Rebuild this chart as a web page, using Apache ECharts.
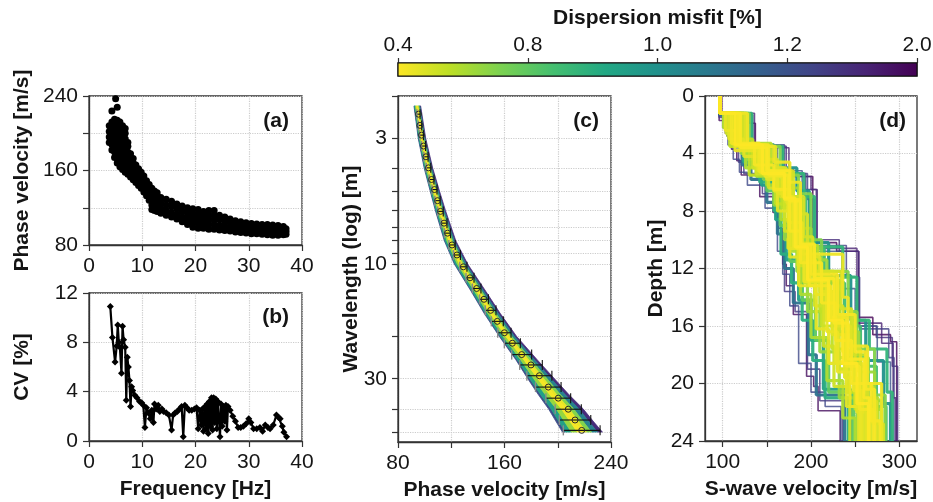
<!DOCTYPE html>
<html><head><meta charset="utf-8">
<script src="https://cdn.jsdelivr.net/npm/echarts@6/dist/echarts.min.js"></script>
<style>html,body{margin:0;padding:0;background:#fff}#c{width:933px;height:502px}</style>
</head><body><div id="c"></div>
<script>
// ---------- Panel (a): phase velocity vs frequency ----------
const freqA = [3.8,4.3,4.8,5.0,5.3,5.8,6.3,6.8,7.3,7.8,8.3,8.8,9.3,9.8,10.3,10.8,11.3,11.8,12.3,12.8,13.5,14.5,15.5,16.5,17.5,18.5,19.5,20.5,21.5,22.5,23.5,24.5,25.5,26.5,27.5,28.5,29.5,30.5,31.5,32.5,33.5,34.5,35.5,36.5,37.0];
const velA = [
 [190,196,202,208],[182,188,194,200,206,212,224],[174,180,186,192,198,204,210,215],[237],
 [168,174,180,186,192,198,204,210,214,228],[164,170,176,182,188,194,200,206,212],
 [161,167,173,179,185,191,197,203,208],[158,164,170,176,182,188,194,200,205],
 [156,162,168,174,180,186,190],[153,159,165,171,178],[150,156,162,168,173],[147,153,159,166],
 [144,150,156,162],[141,147,153,158],[137,143,149,154],[133,139,145,149],[128,134,140,145],
 [118,123,129,135,141],[117,122,128,134,138],[116,121,127,133,136],[114,119,125,131],
 [112,117,123,129],[110,115,121,127],[108,113,119,124],[105,110,116,122],[102,107,112,116,120],
 [99,104,109,114,119],[98,103,108,113,118],[98,103,108,112,116],[97,102,107,112,117],
 [97,102,107,112,117],[96,101,107,112],[95.5,100,105,110],[95,99,104,108],[94,98,102,106],
 [93.5,97,101,105],[93,97,100,104],[92,96,99,103],[92,95.5,99,102.5],[91.5,95,98.5,102],
 [91,95,98.5,102],[90.5,94.5,98,101.5],[90.5,94,97.5,101],[91,94,97,100],[91.5,94.5,97.5]
];
// ---------- Panel (b): CV vs frequency ----------
const freqB = [4.0,4.4,4.9,5.2,5.4,5.6,5.8,6.1,6.3,6.5,6.8,7.0,7.2,7.4,7.6,7.8,8.0,8.2,8.6,9.0,9.5,9.9,10.2,10.5,10.8,11.1,11.5,11.8,12.1,12.3,12.6,13.0,13.3,13.7,14.0,14.5,15.0,15.5,15.8,16.2,16.6,17.0,17.4,17.7,18.0,18.4,18.8,19.3,19.8,20.2,20.5,20.8,21.1,21.3,21.5,21.8,22.0,22.2,22.4,22.6,22.8,23.0,23.2,23.4,23.6,23.8,24.0,24.2,24.4,24.6,24.8,25.0,25.2,25.5,25.7,25.9,26.1,26.5,27.0,27.5,28.0,28.5,29.0,29.5,30.0,30.4,30.9,31.5,32.1,32.6,33.1,33.6,34.0,34.6,35.2,35.6,35.9,36.3,36.6,37.1];
const cvB = [10.9,8.4,6.4,7.7,9.4,8.0,7.6,5.5,9.3,8.2,7.6,3.3,6.8,6.0,4.9,2.8,4.4,4.1,3.7,3.5,3.2,3.1,2.9,1.1,2.7,2.3,1.8,2.5,1.5,3.0,2.6,2.9,2.4,2.6,2.4,2.3,2.1,0.9,2.1,2.3,2.4,2.6,2.8,0.35,2.9,2.7,2.5,2.5,2.6,2.7,1.0,2.5,1.3,2.6,0.8,2.8,1.0,3.0,0.6,3.2,1.2,3.5,0.9,3.5,1.5,3.4,1.0,3.2,1.8,0.35,3.0,1.2,2.8,1.6,2.9,0.9,2.8,2.5,2.0,1.6,1.1,1.1,1.2,1.4,1.8,1.5,1.0,1.0,1.1,0.8,1.3,1.1,1.0,1.3,2.1,1.9,1.8,1.2,0.7,0.35];
// ---------- Panel (c): theoretical dispersion curves + experimental ----------
const lamGrid = [2.2,3,4,5,6,8,10,13,16,20,25,30,35,40,45,50];
const curveL100 = [92.0,95.2,99.7,104.3,108.1,114.8,122.3,135.0,144.6,156.1,168.5,177.5,185.5,193.0,198.5,203.5];
const curveL85  = [92.4,95.6,100.2,104.8,108.7,115.4,123.0,135.8,145.5,157.1,169.7,179.0,187.2,194.9,200.6,205.7];
const curveL55  = [93.1,96.5,101.1,105.9,109.8,116.7,124.5,137.5,147.3,159.0,172.1,182.0,190.7,198.8,204.8,210.2];
const curveL25  = [93.9,97.3,102.1,106.9,110.9,118.0,126.0,139.1,149.1,161.0,174.5,185.0,194.1,202.7,209.0,214.7];
const curveC    = [94.5,98.0,102.9,107.8,111.9,119.1,127.3,140.5,150.6,162.6,176.5,187.5,197.0,206.0,212.5,218.5];
const curveR20  = [95.0,98.6,103.5,108.5,112.7,120.0,128.3,141.6,151.8,163.9,178.1,189.5,199.3,208.6,215.3,221.5];
const curveR45  = [95.6,99.3,104.3,109.4,113.6,121.0,129.6,143.0,153.3,165.5,180.1,192.0,202.2,211.9,218.8,225.3];
const curveR75  = [96.4,100.1,105.3,110.4,114.8,122.3,131.1,144.6,155.1,167.5,182.5,195.0,205.6,215.8,223.0,229.8];
const curveR100 = [97.0,100.8,106.1,111.3,115.7,123.4,132.3,146.0,156.6,169.1,184.5,197.5,208.5,219.0,226.5,233.5];
const bandMisfit = [1.25,0.95,0.65,0.42,0.45,0.7,1.05,1.6]; // strips between consecutive curves
const expLam = [2.38,2.65,2.91,3.23,3.58,3.98,4.45,4.90,5.45,6.04,6.76,7.44,8.33,9.17,10.27,11.41,12.64,14.02,15.58,17.32,19.32,21.35,23.81,26.29,29.15,32.50,36.14,40.18,44.55,49.2];
const expVel = [95.4,96.5,97.7,99.2,101.0,102.9,105.2,107.4,109.7,111.9,114.6,117.2,120.6,124.3,129.1,134.1,139.1,144.6,149.6,154.6,159.9,165.9,172.9,179.9,186.2,192.9,200.4,207.9,213.0,218.0];
const expErr = [1.2,1.3,1.4,1.5,1.6,1.7,1.8,1.9,2.0,2.1,2.2,2.3,2.4,2.6,2.7,3.0,3.2,3.3,4.0,4.5,5.0,6.0,7.5,8.5,9.4,9.6,9.3,9.8,11.8,13.8];
// ---------- Panel (d): Vs profiles ----------
const depthBottom = 24;
const profMisfit = [2.0,1.9,1.7,1.5,1.4,1.2,1.1,1.0,0.95,0.85,0.8,0.75,0.62,0.58,0.55,0.5,0.48,0.45,0.43,0.41,0.4,
                    0.52,0.47,0.44,0.6,0.42,0.7,0.66,0.5,0.46,0.9,0.88,1.3,1.6,
                    0.45,0.5,0.56,0.64,0.72,0.42];
const profZ = [
 [0,1.3,1.9,3.5,5.1,5.6,10.2,10.8,15.4,16.6,17.1],
 [0,1.7,2.8,3.7,4.5,5.5,7.0,8.1,9.2,11.7,13.2,15.2,19.5,20.2,21.9],
 [0,1.2,3.6,5.6,6.5,10.6,15.8,17.2,21.0],
 [0,1.5,2.6,3.6,4.6,5.4,6.8,8.4,11.0,13.6,15.0,19.0,21.2],
 [0,1.2,3.4,5.4,7.2,10.4,12.6,16.2,18.2],
 [0,1.2,3.5,5.2,7.0,10.8,13.4,16.0,18.5,21.5],
 [0,1.3,2.4,3.5,4.8,5.8,7.4,9.6,12.0,14.4,18.0,20.8],
 [0,1.2,3.4,5.0,6.6,10.2,12.5,15.6,18.4,21.4],
 [0,1.2,3.0,4.6,6.2,8.6,11.4,14.2,17.0,20.4],
 [0,1.2,3.4,5.4,7.0,10.6,13.0,16.0,18.8,21.6],
 [0,1.2,3.2,4.9,6.6,9.0,11.5,14.2,17.0,20.6],
 [0,1.2,3.5,5.3,7.2,10.4,12.8,15.4,18.2,21.2],
 [0,1.2,3.4,5.0,7.0,10.0,12.5,15.5,18.5,21.5],
 [0,1.2,3.3,5.2,7.2,10.4,12.8,15.2,18.0,21.0],
 [0,1.2,3.5,5.5,7.5,10.5,13.0,16.0,19.0,21.8],
 [0,1.2,3.4,5.4,7.0,10.6,13.0,15.6,19.0,21.5],
 [0,1.2,3.5,5.0,7.4,10.8,12.6,16.0,18.6,21.2],
 [0,1.2,3.4,5.6,7.0,10.5,12.9,15.6,18.5,20.5],
 [0,1.2,3.3,5.3,7.2,10.6,13.2,15.4,18.8,21.8],
 [0,1.2,3.6,5.2,7.3,10.3,12.7,15.8,18.3,21.0],
 [0,1.2,3.4,5.4,7.1,10.5,12.8,15.6,18.6,21.4],
 [0,1.2,2.6,3.6,5.0,6.4,9.4,11.8,14.6,17.4,20.2],
 [0,1.2,3.0,4.2,5.8,8.0,11.2,13.6,16.6,19.6,22.0],
 [0,1.2,3.5,4.6,6.0,9.0,11.0,14.0,17.4,20.0],
 [0,1.2,2.2,3.4,5.0,6.2,8.6,10.8,13.8,16.8,19.8,22.4],
 [0,1.2,3.3,4.8,6.5,9.4,11.6,14.4,17.0,20.0,22.6],
 [0,1.2,3.5,5.5,6.8,10.0,12.2,15.0,17.6,20.8],
 [0,1.2,2.8,4.0,5.6,7.6,10.0,12.2,15.0,17.8,21.0],
 [0,1.2,3.4,5.2,7.0,9.8,12.2,14.8,17.6,20.2,22.8],
 [0,1.2,3.4,5.3,6.8,10.6,13.2,16.2,18.6,21.6],
 [0,1.2,3.1,4.6,6.0,8.0,11.0,13.0,15.6,18.4,21.0],
 [0,1.2,3.5,5.4,7.0,10.5,12.6,15.6,17.6,20.6],
 [0,1.4,2.2,3.4,4.4,5.3,6.2,7.8,10.8,12.4,14.6,18.6,20.6,21.6],
 [0,1.3,3.5,5.4,6.5,10.0,10.8,16.0,16.8,18.8],
 [0,1.2,2.4,3.8,5.2,6.6,8.8,11.4,13.8,16.4,19.2,21.6],
 [0,1.2,3.4,4.4,6.0,8.2,10.6,12.2,14.6,17.8,20.4],
 [0,1.2,3.0,4.4,5.6,7.8,10.2,12.8,15.0,17.6,20.6],
 [0,1.2,3.5,5.0,6.4,9.2,11.4,13.6,16.4,19.2,21.8],
 [0,1.2,2.9,4.4,5.8,7.6,10.4,12.4,15.0,18.2,20.8],
 [0,1.2,3.4,5.5,7.2,10.4,12.4,15.2,17.8,20.4]
];
const profV = [
 [99,130,137,168,180,202,229,254,270,290,297],
 [96,105,110,116,121,142,157,163,168,172,180,195,203,208,233],
 [98,136,175,200,207,252,280,293,296],
 [96,103,110,118,124,145,160,166,170,182,196,210,236],
 [98,132,170,196,204,240,255,288,294],
 [97,128,162,190,202,235,250,275,290,292],
 [97,106,113,122,132,150,162,170,180,197,206,238],
 [97,124,158,184,198,220,245,262,282,290],
 [97,110,126,144,160,172,186,200,214,245],
 [97,120,152,178,194,215,238,256,274,285],
 [97,113,132,150,165,176,190,205,220,248],
 [97,118,146,174,190,206,230,246,265,280],
 [97,115,140,168,182,200,222,238,255,268],
 [97,122,155,178,190,208,232,248,262,276],
 [97,108,130,160,175,192,212,230,250,258],
 [97,112,138,165,178,195,215,232,250,262],
 [97,126,160,172,186,200,228,245,258,274],
 [97,116,148,168,180,192,218,228,248,258],
 [97,110,142,170,184,198,222,240,255,270],
 [97,120,150,176,188,204,226,242,260,266],
 [97,114,145,170,182,196,220,236,252,265],
 [97,104,118,134,152,170,185,204,214,226,244],
 [97,107,124,150,162,176,210,224,238,252,262],
 [97,128,158,176,188,190,236,242,264,280],
 [97,101,110,126,150,166,178,188,200,218,236,250],
 [97,119,136,158,176,188,212,228,246,268,278],
 [97,130,165,186,200,212,242,252,272,284],
 [97,106,121,138,158,170,184,196,210,232,252],
 [97,124,150,180,192,202,234,246,256,270,282],
 [97,117,144,162,174,186,206,220,240,254],
 [97,108,124,142,158,166,178,190,202,216,242],
 [97,133,168,192,204,236,252,266,286,292],
 [96,100,106,112,119,128,148,162,168,176,186,200,216,234],
 [98,134,172,194,206,232,254,274,292,298],
 [97,103,114,140,158,174,190,205,218,230,244,256],
 [97,121,146,162,180,196,204,226,236,250,264],
 [97,112,134,155,168,186,198,210,224,242,258],
 [97,127,152,170,186,200,218,232,254,272,280],
 [97,109,128,146,164,180,194,214,230,250,262],
 [97,118,152,174,188,200,230,250,262,272]
];
// ---------- Colour bar ----------
const cbValues = [0.4,0.8,1.0,1.2,2.0];
const cbLabels = ['0.4','0.8','1.0','1.2','2.0'];

// ---------- colour helpers ----------
const VIR = ['#440154','#482475','#414487','#355f8d','#2a788e','#21918c','#22a884','#44bf70','#7ad151','#bddf26','#fde725'];
function hx(h){return [parseInt(h.slice(1,3),16),parseInt(h.slice(3,5),16),parseInt(h.slice(5,7),16)];}
function viridis(t){t=Math.max(0,Math.min(1,t));const p=t*10;const i=Math.min(9,Math.floor(p));const f=p-i;const a=hx(VIR[i]),b=hx(VIR[i+1]);
 return 'rgb('+a.map((c,k)=>Math.round(c+(b[k]-c)*f)).join(',')+')';}
function misfitColor(m){let t=1;for(let k=0;k<cbValues.length-1;k++){if(m<=cbValues[k+1]){t=(k+Math.max(0,(m-cbValues[k]))/(cbValues[k+1]-cbValues[k]))/(cbValues.length-1);break;}}
 return viridis(1-t);}

const FONT = 'Liberation Sans, Arial, Helvetica, sans-serif';
const AX = '#333';
const TXT = '#151515';
function axisBase(o){
  const base = {
    axisLine:{show:true,onZero:false,lineStyle:{color:AX,width:1.3}},
    axisTick:{show:true,inside:false,length:6,lineStyle:{color:AX,width:1.2}},
    splitLine:{show:true,lineStyle:{color:'#cccccc',type:'dotted',width:1.2}},
    axisLabel:{fontSize:21,color:TXT,fontFamily:FONT,margin:11},
    nameTextStyle:{fontSize:21,fontWeight:'bold',color:TXT,fontFamily:FONT},
    nameLocation:'middle', nameMoveOverlap:false
  };
  for (const k in o){
    if (base[k] && typeof base[k]==='object' && !Array.isArray(base[k]) && typeof o[k]==='object') base[k]=Object.assign({},base[k],o[k]);
    else base[k]=o[k];
  }
  return base;
}

const gridCommon = {show:true,borderColor:AX,borderWidth:1.3,backgroundColor:'transparent',containLabel:false,outerBoundsMode:'none'};
const grids = [
  {left:89,top:96,width:213,height:149},
  {left:89,top:293,width:213,height:148},
  {left:398,top:96,width:213,height:346},
  {left:705,top:96,width:212,height:345},
  {left:398,top:63,width:519,height:13}
].map(g=>Object.assign({},gridCommon,g));

const xAxes = [
  axisBase({gridIndex:0,type:'value',min:0,max:40,interval:10}),
  axisBase({gridIndex:1,type:'value',min:0,max:40,interval:10,name:'Frequency [Hz]',nameGap:38}),
  axisBase({gridIndex:2,type:'value',min:80,max:240,interval:40,name:'Phase velocity [m/s]',nameGap:38,
     axisLabel:{formatter:v=>((v-80)%80===0?String(v):'')}}),
  axisBase({gridIndex:3,type:'value',min:80,max:320,name:'S-wave velocity [m/s]',nameGap:38,
     axisTick:{customValues:[100,150,200,250,300]},axisLabel:{customValues:[100,200,300]}}),
  axisBase({gridIndex:4,type:'value',min:0,max:cbValues.length-1,interval:1,position:'top',
     axisLine:{show:false},splitLine:{show:false},axisTick:{length:5},
     axisLabel:{margin:7,formatter:v=>cbLabels[v]},
     name:'Dispersion misfit [%]',nameGap:34})
];
const yAxes = [
  axisBase({gridIndex:0,type:'value',min:80,max:240,interval:40,name:'Phase velocity [m/s]',nameRotate:90,nameGap:56,
     axisLabel:{formatter:v=>(v%80===0?String(v):'')}}),
  axisBase({gridIndex:1,type:'value',min:0,max:12,interval:4,name:'CV [%]',nameRotate:90,nameGap:56}),
  axisBase({gridIndex:2,type:'log',logBase:10,min:2,max:55,inverse:true,name:'Wavelength (log) [m]',nameRotate:90,nameGap:36,
     axisTick:{customValues:[2,3,4,5,6,7,8,9,10,20,30,40,50]},axisLabel:{customValues:[3,10,30]}}),
  axisBase({gridIndex:3,type:'value',min:0,max:24,interval:4,inverse:true,name:'Depth [m]',nameRotate:90,nameGap:38}),
  {gridIndex:4,type:'value',min:0,max:1,show:false}
];

const series = [];
// (a)
series.push({type:'scatter',xAxisIndex:0,yAxisIndex:0,symbol:'circle',symbolSize:7,
  itemStyle:{color:'#000',opacity:1,borderWidth:0},data:freqA.flatMap((f,i)=>velA[i].map(v=>[f,v])),z:3});
// (b)
series.push({type:'line',xAxisIndex:1,yAxisIndex:1,symbol:'diamond',symbolSize:7,showSymbol:true,
  itemStyle:{color:'#000',opacity:1},lineStyle:{color:'#000',width:2.2},data:freqB.map((f,i)=>[f,cvB[i]]),z:3});
// (c) band strips
const curvesOrdered = [curveL100,curveL85,curveL55,curveL25,curveC,curveR20,curveR45,curveR75,curveR100];
const stripOrder = bandMisfit.map((m,i)=>i).sort((a,b)=>bandMisfit[b]-bandMisfit[a]);
stripOrder.forEach(k=>{
  const left = curvesOrdered[k], right = curvesOrdered[k+1];
  series.push({type:'custom',xAxisIndex:2,yAxisIndex:2,silent:true,z:2,
    data: lamGrid.map((l,i)=>[left[i],l,right[i]]),
    encode:{x:[0,2],y:1},
    renderItem:(params,api)=>{
      if (params.dataIndex!==0) return null;
      const pts=[];
      for (let i=0;i<lamGrid.length;i++) pts.push(api.coord([left[i],lamGrid[i]]));
      for (let i=lamGrid.length-1;i>=0;i--) pts.push(api.coord([right[i],lamGrid[i]]));
      return {type:'polygon',shape:{points:pts},style:{fill:misfitColor(bandMisfit[k]),stroke:misfitColor(bandMisfit[k]),lineWidth:0.8}};
    }});
});
// (c) error bars
series.push({type:'custom',xAxisIndex:2,yAxisIndex:2,z:4,silent:true,
  data: expLam.map((l,i)=>[expVel[i],l,expErr[i]]),
  encode:{x:0,y:1},
  renderItem:(params,api)=>{
    const v=api.value(0),l=api.value(1),e=api.value(2);
    const p0=api.coord([v-e,l]),p1=api.coord([v+e,l]);const h=5;
    return {type:'group',children:[
      {type:'line',shape:{x1:p0[0],y1:p0[1],x2:p1[0],y2:p1[1]},style:{stroke:'#111',lineWidth:1.1}},
      {type:'line',shape:{x1:p0[0],y1:p0[1]-h,x2:p0[0],y2:p0[1]+h},style:{stroke:'#8a8a8a',lineWidth:1.4}},
      {type:'line',shape:{x1:p1[0],y1:p1[1]-h,x2:p1[0],y2:p1[1]+h},style:{stroke:'#111',lineWidth:1.1}}
    ]};
  }});
series.push({type:'scatter',xAxisIndex:2,yAxisIndex:2,symbol:'circle',symbolSize:6,z:5,
  itemStyle:{color:'rgba(0,0,0,0)',borderColor:'#2a2a2a',borderWidth:1,opacity:1},
  data:expLam.map((l,i)=>[expVel[i],l])});
// (d) profiles, worst misfit first
const profOrder = profMisfit.map((m,i)=>i).sort((a,b)=>profMisfit[b]-profMisfit[a]);
profOrder.forEach(k=>{
  const z=profZ[k], v=profV[k], pts=[];
  for (let i=0;i<v.length;i++){ const bot = i+1<z.length ? z[i+1] : depthBottom; pts.push([v[i],z[i]],[v[i],bot]); }
  const m = profMisfit[k];
  series.push({type:'line',xAxisIndex:3,yAxisIndex:3,showSymbol:false,symbol:'none',z:2,silent:true,
    lineStyle:{color:misfitColor(m),width:m>1.1?1.6:3.2,opacity:m>1.1?0.8:0.95},data:pts});
});
// colour bar
const cbStops = VIR.map((c,i)=>({offset:i/(VIR.length-1),color:VIR[VIR.length-1-i]}));
series.push({type:'custom',xAxisIndex:4,yAxisIndex:4,silent:true,z:2,
  data:[[0,0,cbValues.length-1,1]],encode:{x:[0,2],y:[1,3]},
  renderItem:(params,api)=>{
    const a=api.coord([api.value(0),api.value(1)]), b=api.coord([api.value(2),api.value(3)]);
    return {type:'rect',shape:{x:a[0],y:b[1],width:b[0]-a[0],height:a[1]-b[1]},
      style:{fill:new echarts.graphic.LinearGradient(0,0,1,0,cbStops),stroke:'#111',lineWidth:1.2}};
  }});

const letters = [['(a)',289,121],['(b)',289,317],['(c)',599,121],['(d)',906,121]];
const chart = echarts.init(document.getElementById('c'),null,{renderer:'canvas'});
chart.setOption({
  animation:false,
  backgroundColor:'#fff',
  textStyle:{fontFamily:FONT},
  grid:grids, xAxis:xAxes, yAxis:yAxes, series:series,
  graphic: letters.map(t=>({type:'text',x:t[1],y:t[2],z:100,
     style:{text:t[0],font:'bold 21px '+FONT,fill:TXT,align:'right',verticalAlign:'middle'}}))
});
</script></body></html>
